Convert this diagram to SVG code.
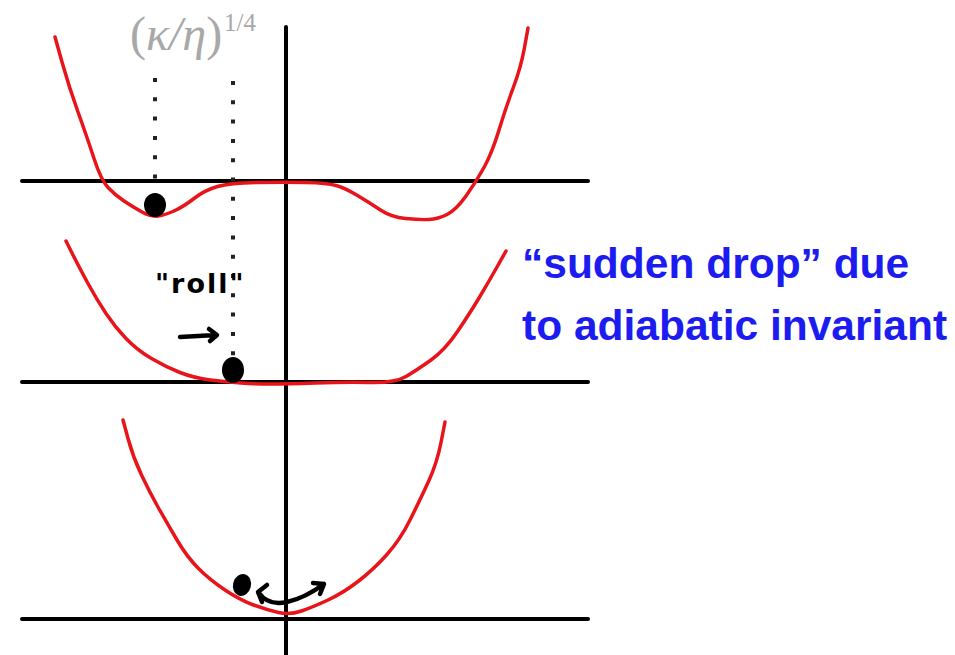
<svg xmlns="http://www.w3.org/2000/svg" width="955" height="655" viewBox="0 0 955 655">
<style>
.axis{stroke:#000;stroke-width:4;stroke-linecap:round;fill:none}
.pot{stroke:#e8141a;stroke-width:3.5;fill:none;stroke-linejoin:round;stroke-linecap:round}
.dots{stroke:#222;stroke-width:4;stroke-dasharray:4 15.3;fill:none}
.ink{stroke:#000;stroke-width:4.5;fill:none;stroke-linecap:round;stroke-linejoin:round}
.blue{font-family:"Liberation Sans",Arial,sans-serif;font-weight:bold;font-size:42.5px;fill:#1c1cf0}
.math{font-family:"Liberation Serif","DejaVu Serif",serif;fill:#a8a8a8}
</style>
<rect width="955" height="655" fill="#fff"/>
<g id="axes">
<line class="axis" x1="286" y1="27" x2="286" y2="655"/>
<line class="axis" x1="22" y1="181" x2="588" y2="181"/>
<line class="axis" x1="22" y1="382" x2="588" y2="382"/>
<line class="axis" x1="22" y1="619" x2="588" y2="619"/>
</g>
<g id="guides">
<line class="dots" x1="155" y1="78" x2="155" y2="200"/>
<line class="dots" x1="233" y1="81" x2="233" y2="362"/>
</g>
<g id="potential-top">
<path class="pot" d="M55,37 L62,62 Q69,87 78,112 Q87,137 94,158.5 Q101,180 108,187.5 Q115,195 124,201 Q133,207 142,212 Q151,217 158,216 Q165,215 174,211 Q183,207 194,198.5 Q205,190 217.5,186.5 Q230,183 258,182.5 Q286,182 306.5,182.5 Q327,183 336,185.5 Q345,188 357.5,195.5 Q370,203 380.5,210 Q391,217 405.5,218.5 Q420,220 429,219.5 Q438,219 447,214.5 Q456,210 466,196 Q476,182 484,167.5 Q492,153 499,130 Q506,107 513.5,87 Q521,67 524.5,47.5 L528,28"/>
<ellipse cx="155" cy="205" rx="11" ry="12" fill="#000"/>
</g>
<g id="potential-middle">
<path class="pot" d="M66,241 L72.5,254 Q79,267 88,283.5 Q97,300 106,313.5 Q115,327 126,338.5 Q137,350 151.5,358.5 Q166,367 180,372.5 Q194,378 210.5,380 Q227,382 241,383 Q255,384 270.5,384 Q286,384 315.5,383 Q345,382 370,382.5 Q395,383 406,376.5 Q417,370 431,360 Q445,350 457.5,331.5 Q470,313 479,298 Q488,283 497,267 L506,251"/>
<ellipse cx="233" cy="370" rx="11" ry="13" fill="#000"/>
<text x="155" y="293" font-family="'DejaVu Sans',sans-serif" font-weight="bold" font-size="27" letter-spacing="2" fill="#000">"roll"</text>
<path class="ink" d="M180,337 L216,335 M209,329 L217,335 L210,341"/>
</g>
<g id="potential-bottom">
<path class="pot" d="M123,420 L128,438.5 Q133,457 141.5,475 Q150,493 158.5,508 Q167,523 177,540 Q187,557 198.5,568.5 Q210,580 225,590 Q240,600 253.5,605 Q267,610 278.5,612.5 Q290,615 301.5,611 Q313,607 328,600 Q343,593 358,581.5 Q373,570 386.5,555 Q400,540 410,520 Q420,500 428.5,481.5 Q437,463 441,442.5 L445,422"/>
<ellipse cx="242" cy="585" rx="9" ry="11" transform="rotate(15 242 585)" fill="#000"/>
<path class="ink" stroke-width="4" d="M259,593 Q268,606 287,602 Q305,598 324,584 M267,585 L258,592 L262,602 M313,583 L324,584 L320,594"/>
</g>
<g id="labels">
<text class="math" x="130" y="50" font-size="48">(<tspan font-style="italic">κ/η</tspan>)</text>
<text class="math" x="224" y="31" font-size="25">1/4</text>
<text class="blue" x="522" y="278">“sudden drop” due</text>
<text class="blue" x="522" y="340">to adiabatic invariant</text>
</g>
</svg>
